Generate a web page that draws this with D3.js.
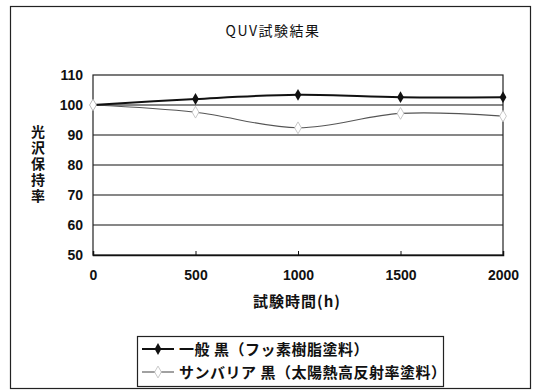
<!DOCTYPE html>
<html><head><meta charset="utf-8">
<script src="https://cdn.jsdelivr.net/npm/d3@7"></script>
<style>
html,body{margin:0;padding:0;background:#fff;}
svg{display:block;font-family:"Liberation Sans","Noto Sans CJK JP",sans-serif;}
</style></head>
<body><svg id="c" width="536" height="392"></svg>
<script>
const title = "QUV試験結果";
const hours = [0, 500, 1000, 1500, 2000];
const seriesNames = ["一般 黒（フッ素樹脂塗料）", "サンバリア 黒（太陽熱高反射率塗料）"];
const ippanValues = [100, 102, 103.4, 102.6, 102.6];
const sunbarrierValues = [100, 97.6, 92.4, 97.2, 96.3];
const yTicks = [50, 60, 70, 80, 90, 100, 110];
const xTicks = [0, 500, 1000, 1500, 2000];
const yLabel = "光沢保持率";
const xLabel = "試験時間(h)";

const svg = d3.select("#c");
const font = `"Liberation Sans","Noto Sans CJK JP",sans-serif`;
const cjk = `"Noto Sans CJK JP","Liberation Sans",sans-serif`;

// outer frame
svg.append("rect").attr("x",10.5).attr("y",6.5).attr("width",520).attr("height",382)
  .attr("fill","none").attr("stroke","#222").attr("stroke-width",1.2);

svg.append("text").attr("x",273).attr("y",36).attr("text-anchor","middle")
  .attr("font-family",cjk).attr("font-size",14).attr("letter-spacing",1.5)
  .attr("fill","#111").text(title);

const x = d3.scaleLinear().domain([0,2000]).range([93,503]);
const y = d3.scaleLinear().domain([50,110]).range([255,75]);

// gridlines
svg.append("g").selectAll("line").data(yTicks.filter(d=>d>50 && d<110)).join("line")
  .attr("x1",x(0)).attr("x2",x(2000)).attr("y1",d=>y(d)).attr("y2",d=>y(d))
  .attr("stroke","#111").attr("stroke-width",1.2);

// plot border
svg.append("rect").attr("x",x(0)).attr("y",y(110)).attr("width",x(2000)-x(0)).attr("height",y(50)-y(110))
  .attr("fill","none").attr("stroke","#222").attr("stroke-width",1.2);

// axes
const yAxis = d3.axisLeft(y).tickValues(yTicks).tickSize(0).tickPadding(10);
const gy = svg.append("g").attr("transform",`translate(${x(0)},0)`).call(yAxis);
gy.select(".domain").remove();
gy.selectAll("text").attr("font-family",font).attr("font-size",14).attr("font-weight","bold").attr("fill","#111");

const gx = svg.append("g").attr("transform",`translate(0,${y(50)})`)
  .call(d3.axisBottom(x).tickValues(xTicks).tickFormat(d3.format("d")).tickSize(-4).tickPadding(15));
gx.select(".domain").attr("stroke","#111").attr("stroke-width",1.5);
gx.selectAll(".tick line").attr("stroke","#111");
gx.selectAll("text").attr("font-family",font).attr("font-size",14).attr("font-weight","bold").attr("fill","#111");

// axis titles (vertical, upright characters)
svg.append("text").attr("x",38).attr("y",165)
  .attr("text-anchor","middle").attr("font-family",cjk).attr("font-size",14).attr("font-weight","bold")
  .style("writing-mode","vertical-rl").style("text-orientation","upright")
  .attr("letter-spacing",2).attr("fill","#111").text(yLabel);
svg.append("text").attr("x",297).attr("y",307).attr("text-anchor","middle")
  .attr("font-family",cjk).attr("font-size",15).attr("font-weight","bold").attr("letter-spacing",1)
  .attr("fill","#111").text(xLabel);

// lines
const line = d3.line().x((d,i)=>x(hours[i])).y(d=>y(d)).curve(d3.curveCatmullRom.alpha(0.5));
svg.append("path").datum(sunbarrierValues).attr("d",line).attr("fill","none")
  .attr("stroke","#555").attr("stroke-width",1.1);
svg.append("path").datum(ippanValues).attr("d",line).attr("fill","none")
  .attr("stroke","#111").attr("stroke-width",2);

const diamond = d3.symbol().type(d3.symbolDiamond).size(40);
svg.append("g").selectAll("path").data(ippanValues).join("path")
  .attr("d",diamond).attr("transform",(d,i)=>`translate(${x(hours[i])},${y(d)})`).attr("fill","#111");
svg.append("g").selectAll("path").data(sunbarrierValues).join("path")
  .attr("d",diamond).attr("transform",(d,i)=>`translate(${x(hours[i])},${y(d)})`)
  .attr("fill","#fff").attr("stroke","#bbb").attr("stroke-width",0.8);

// legend
const lg = svg.append("g");
lg.append("rect").attr("x",137.5).attr("y",336.5).attr("width",306).attr("height",50)
  .attr("fill","#fff").attr("stroke","#222").attr("stroke-width",1.2);
const ly = [349, 372];
seriesNames.forEach((name,i)=>{
  lg.append("line").attr("x1",142).attr("x2",174).attr("y1",ly[i]).attr("y2",ly[i])
    .attr("stroke", i===0?"#111":"#555").attr("stroke-width", i===0?2:1.1);
  lg.append("path").attr("d",diamond).attr("transform",`translate(158,${ly[i]})`)
    .attr("fill", i===0?"#111":"#fff").attr("stroke", i===0?"none":"#bbb").attr("stroke-width",0.8);
  lg.append("text").attr("x",179).attr("y",ly[i]+5.5).attr("font-family",cjk).attr("font-size",15)
    .attr("font-weight","bold").attr("letter-spacing",0.5).attr("fill","#111").text(name);
});
</script></body></html>
